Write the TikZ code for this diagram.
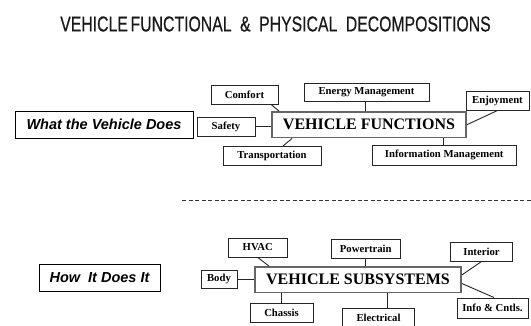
\documentclass[tikz,border=0pt]{standalone}
\usepackage{graphicx}
\usepackage{fontspec}
\setmainfont{Liberation Serif}
\newfontfamily\arialfont{Liberation Sans}
\newfontfamily\headfont[FakeBold=0.5]{Liberation Sans}
\usetikzlibrary{calc,shadows}

\begin{document}
\begin{tikzpicture}[x=1pt,y=-1pt,
  sz/.style 2 args={minimum width=#1pt,minimum height=#2pt},
  box/.style={draw=black!85,line width=1pt,inner sep=0pt,
    font=\fontsize{10.7}{12}\selectfont\bfseries},
  bigbox/.style={draw=black!60,line width=1.7pt,inner sep=0pt,
    font=\fontsize{16}{18}\selectfont\bfseries},
  tag/.style={draw=black,line width=1pt,inner sep=0pt,fill=white,
    font=\arialfont\fontsize{14.5}{16}\selectfont\bfseries\itshape,
    general shadow={fill=black!70,shadow xshift=1.2pt,shadow yshift=-1.2pt}},
  link/.style={draw=black!85,line width=0.9pt}
]
\useasboundingbox (0,0) rectangle (531,325);
\fill[white] (0,0) rectangle (531,325);

% title
\node[font=\headfont\fontsize{21.5}{24}\selectfont,text=black!90,inner sep=0pt] (title) at (275.5,24)
  {\scalebox{0.735}[1]{VEHICLE\hspace{3.7pt}FUNCTIONAL\hspace{11.6pt}\&\hspace{11.6pt}PHYSICAL\hspace{11.6pt}DECOMPOSITIONS}};

% side tags
\node[tag,sz={178}{27}] (whatdoes) at (104,124.5) {What the Vehicle Does};
\node[tag,sz={121}{27}] (howdoes) at (99.5,277.5) {How\ \ It Does It};

% functional decomposition
\node[bigbox,sz={194}{25.5}] (vf) at (369,124.75) {VEHICLE FUNCTIONS};
\node[box,sz={67}{18.5}] (comfort) at (244.5,95) {Comfort};
\node[box,sz={125}{18.5}] (energy) at (366.5,92.5) {Energy Management};
\node[box,sz={63}{19}] (enjoy) at (497.5,100.5) {Enjoyment};
\node[box,sz={58}{19}] (safety) at (226,126.5) {Safety};
\node[box,sz={98}{19}] (transport) at (272,156) {Transportation};
\node[box,sz={144.5}{20}] (infomgmt) at (444.25,155) {Information Management};

\draw[link] ($(comfort.south)+(27,0)$) -- ($(vf.north west)+(8,0)$);
\draw[link] ($(energy.south)+(-1,0)$) -- ($(energy.south |- vf.north)+(-1,0)$);
\draw[link] (enjoy.south) -- (vf.east);
\draw[link] (safety.east) -- (safety.east -| vf.west);
\draw[link] ($(transport.north)+(11,0)$) -- ($(vf.south west)+(21,0)$);
\draw[link] ($(infomgmt.north)+(-1,0)$) -- ($(infomgmt.north |- vf.south)+(-1,0)$);

% separator
\coordinate (dashL) at (182,200);
\coordinate (dashR) at (531,200);
\draw[black!80,line width=0.8pt,dash pattern=on 4pt off 2.5pt] (dashL) -- (dashR);

% physical decomposition
\node[bigbox,sz={206}{25.5}] (vs) at (358,279.75) {VEHICLE SUBSYSTEMS};
\node[box,sz={59.5}{19}] (hvac) at (257.75,247.5) {HVAC};
\node[box,sz={69.5}{19}] (powertrain) at (365.75,248.5) {Powertrain};
\node[box,sz={62}{19}] (interior) at (481.5,251.5) {Interior};
\node[box,sz={36}{18}] (body) at (219,279) {Body};
\node[box,sz={63}{19}] (chassis) at (281.5,312.5) {Chassis};
\node[box,sz={72}{19}] (electrical) at (378.5,318) {Electrical};
\node[box,sz={71}{20}] (infocntls) at (492.5,308) {Info \& Cntls.};

\draw[link] (hvac.south) -- ($(vs.north west)+(15,0)$);
\draw[link] (powertrain.south) -- (powertrain.south |- vs.north);
\draw[link] (interior.south) -- ($(vs.east)+(0,-4.75)$);
\draw[link] ($(infocntls.north)+(1.5,0)$) -- ($(vs.east)+(0,3.75)$);
\draw[link] (body.east) -- (body.east -| vs.west);
\draw[link] (chassis.north) -- (chassis.north |- vs.south);
\draw[link] ($(electrical.north)+(9,0)$) -- ($(electrical.north |- vs.south)+(9,0)$);
\end{tikzpicture}
\end{document}
